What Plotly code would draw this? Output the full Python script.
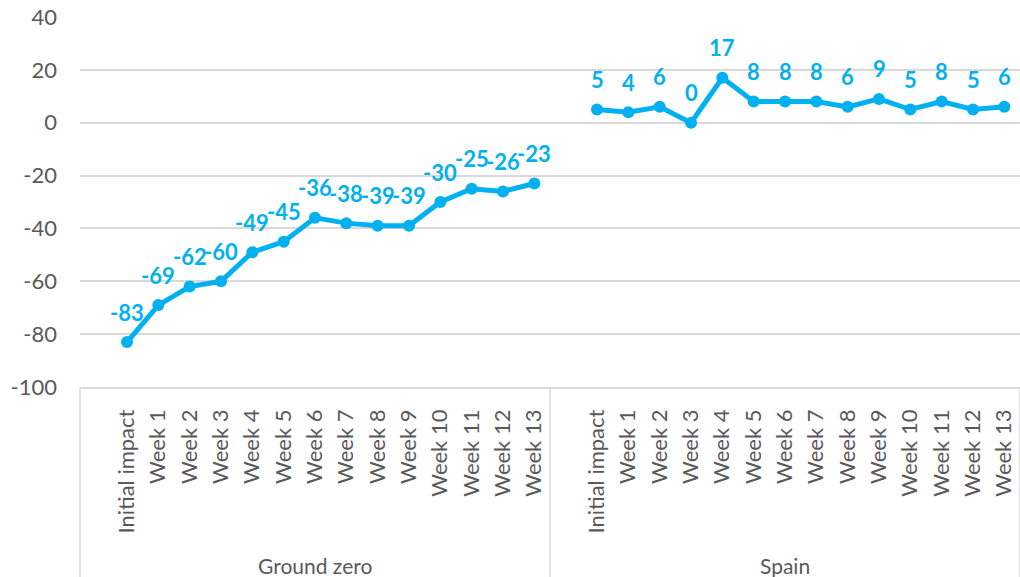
import plotly.graph_objects as go

periods = ["Initial impact"] + [f"Week {i}" for i in range(1, 14)]
groups = ["Ground zero", "Spain"]
ground_zero = [-83, -69, -62, -60, -49, -45, -36, -38, -39, -39, -30, -25, -26, -23]
spain = [5, 4, 6, 0, 17, 8, 8, 8, 6, 9, 5, 8, 5, 6]
series = [ground_zero, spain]
y_ticks = [-100, -80, -60, -40, -20, 0, 20, 40]

BLUE = "#00B0F0"
GREY = "#595959"
GRID = "#D9D9D9"
FONT = "Lato"

# each group has one leading blank slot (as in the source sheet)
slots_per_group = len(periods) + 1
total_slots = slots_per_group * len(groups)

fig = go.Figure()
tickvals, ticktext = [], []
for g, vals in enumerate(series):
    xs = [g * slots_per_group + 1 + i for i in range(len(vals))]
    tickvals += xs
    ticktext += periods
    fig.add_trace(go.Scatter(
        x=xs, y=vals, mode="lines+markers",
        line=dict(color=BLUE, width=5),
        marker=dict(color=BLUE, size=12),
        showlegend=False, cliponaxis=False, hoverinfo="skip",
    ))
    for x, v in zip(xs, vals):
        fig.add_annotation(x=x, y=v, xref="x", yref="y", text=str(v),
                           showarrow=False, yshift=30, xanchor="center", yanchor="middle",
                           font=dict(family=FONT, size=22, color=BLUE, weight="bold"))

# category box lines
plot_h = 577 - 17 - 190
for k in range(len(groups) + 1):
    xp = k * slots_per_group / total_slots
    fig.add_shape(type="line", xref="paper", yref="paper",
                  x0=xp, x1=xp, y0=0, y1=-190 / plot_h,
                  line=dict(color=GRID, width=1.5))
for g, name in enumerate(groups):
    fig.add_annotation(text=name, xref="paper", yref="paper",
                       x=(g + 0.5) * slots_per_group / total_slots, xanchor="center",
                       y=-178 / plot_h, yanchor="middle", showarrow=False,
                       font=dict(family=FONT, size=21, color=GREY))

fig.update_layout(
    width=1020, height=577,
    margin=dict(l=80, r=0, t=17, b=190),
    paper_bgcolor="white", plot_bgcolor="white",
    font=dict(family=FONT, size=21, color=GREY),
    xaxis=dict(range=[-0.5, total_slots - 0.5], tickvals=tickvals, ticktext=ticktext,
               tickangle=-90, showgrid=False, zeroline=False,
               showline=True, linecolor=GRID, linewidth=1.5,
               ticks="", ticklabelstandoff=12,
               tickfont=dict(family=FONT, size=22, color=GREY)),
    yaxis=dict(range=[-100, 40], tickvals=y_ticks, ticktext=[str(v) for v in y_ticks],
               showgrid=True, gridcolor=GRID,
               gridwidth=1.5, zeroline=False, showline=False, ticks="",
               ticklabelstandoff=22,
               tickfont=dict(family=FONT, size=22, color=GREY)),
)

fig.write_html("out.html", config={"displayModeBar": False},
               post_script="document.body.style.margin='0';document.body.style.overflow='hidden';")
